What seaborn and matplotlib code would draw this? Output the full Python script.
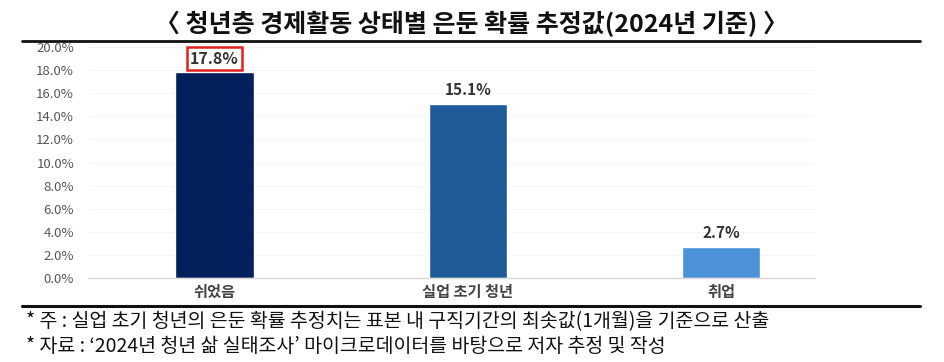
import matplotlib
matplotlib.use("Agg")
import matplotlib.pyplot as plt
import seaborn as sns
import pandas as pd
from matplotlib.lines import Line2D

categories = ["쉬었음", "실업 초기 청년", "취업"]
values = [17.8, 15.1, 2.7]
value_labels = ["17.8%", "15.1%", "2.7%"]
colors = ["#04205c", "#1f5b98", "#4b92d8"]
yticks = [0, 2, 4, 6, 8, 10, 12, 14, 16, 18, 20]
title = "〈 청년층 경제활동 상태별 은둔 확률 추정값(2024년 기준) 〉"
notes = ["* 주 : 실업 초기 청년의 은둔 확률 추정치는 표본 내 구직기간의 최솟값(1개월)을 기준으로 산출",
         "* 자료 : ‘2024년 청년 삶 실태조사’ 마이크로데이터를 바탕으로 저자 추정 및 작성"]

sns.set_theme(style="white")
plt.rcParams['font.family'] = ['Noto Sans CJK KR', 'DejaVu Sans']

df = pd.DataFrame({"cat": categories, "val": values})

fig = plt.figure(figsize=(9.44, 3.62), dpi=100)
ax = fig.add_axes([0.0932, 0.232, 0.770, 0.638])
sns.barplot(data=df, x="cat", y="val", hue="cat", palette=colors, legend=False,
            width=0.31, ax=ax, saturation=1)

ax.set_ylim(0, 20)
ax.set_xlim(-0.5, 2.37)
ax.set_yticks(yticks)
ax.set_yticklabels([f"{t:.1f}%" for t in yticks], fontsize=9.5, color="#555555")
ax.set_xticks(range(len(categories)))
ax.set_xticklabels(categories, fontsize=11, fontweight="bold", color="#444444")
ax.tick_params(axis="x", pad=4, length=0)
ax.tick_params(axis="y", pad=10, length=0)
ax.set_xlabel("")
ax.set_ylabel("")
for t in yticks[1:]:
    ax.axhline(t, color="#f2f2f2", lw=0.6, zorder=0)
for s in ["top", "right", "left"]:
    ax.spines[s].set_visible(False)
ax.spines["bottom"].set_color("#d9d9d9")
ax.spines["bottom"].set_linewidth(1)

for i, (v, lab) in enumerate(zip(values, value_labels)):
    if i == 0:
        ax.text(i, v + 0.5, lab, ha="center", va="bottom", fontsize=11.5, fontweight="bold",
                color="#333333",
                bbox=dict(boxstyle="square,pad=0.2", fc="white", ec="#e0201b", lw=1.8))
    else:
        ax.text(i, v + 0.5, lab, ha="center", va="bottom", fontsize=11, fontweight="bold",
                color="#333333")

fig.text(0.499, 0.935, title, ha="center", va="center", fontsize=18, fontweight="bold", color="#111111")
fig.add_artist(Line2D([0.023, 0.975], [1 - 41/362, 1 - 41/362], color="#111111", lw=2))
fig.add_artist(Line2D([0.023, 0.975], [1 - 306/362, 1 - 306/362], color="#111111", lw=2.2))
fig.text(0.028, 1 - 322/362, notes[0], ha="left", va="center", fontsize=14, color="#111111")
fig.text(0.028, 1 - 346/362, notes[1], ha="left", va="center", fontsize=14, color="#111111")

fig.savefig("out.png", dpi=100)
